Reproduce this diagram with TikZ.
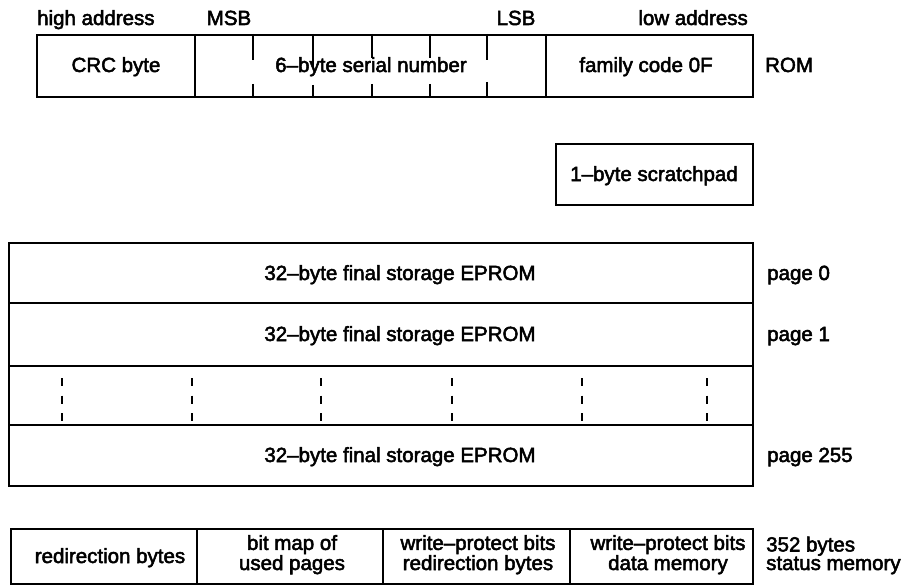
\documentclass[tikz,border=0pt]{standalone}
\usepackage{fontspec}
\setmainfont{Liberation Sans}
\newfontfamily\medfont{Liberation Sans}[FakeBold=2.5]
\begin{document}
\begin{tikzpicture}[x=1pt,y=-1pt,
  box/.style={draw=black,line width=1.8pt},
  seg/.style={draw=black,line width=1.8pt},
  lbl/.style={inner sep=0pt,font=\medfont\fontsize{20.5}{18.5}\selectfont},
  two/.style={lbl,align=center},
  dots/.style={draw=black,line width=2pt,dash pattern=on 8pt off 9.5pt}]
\useasboundingbox (0,0) rectangle (906,586);
% ---------- ROM ----------
\node[box,inner sep=0pt,minimum width=716pt,minimum height=62pt,anchor=north west] (rom) at (36,34) {};
\coordinate (r1t) at (195,34); \coordinate (r1b) at (195,96);
\coordinate (r2t) at (546,34); \coordinate (r2b) at (546,96);
\draw[seg] (r1t) -- (r1b);
\draw[seg] (r2t) -- (r2b);
\foreach \x/\a/\b in {253/60/84, 313/68/85, 372/58/84, 430/58/84, 487/60/82}{
  \draw[seg] (\x,34) -- (\x,\a);
  \draw[seg] (\x,\b) -- (\x,96);
}
\node[lbl,anchor=base] (crc) at (116,72) {CRC byte};
\node[lbl,anchor=base] (serial) at (371,72) {6–byte serial number};
\node[lbl,anchor=base] (fam) at (646,72) {family code 0F};
\node[lbl,anchor=base west] (romlbl) at (765,72) {ROM};
\node[lbl,anchor=base west] (high) at (37,25) {high address};
\node[lbl,anchor=base] (msb) at (229,25) {MSB};
\node[lbl,anchor=base] (lsb) at (516,25) {LSB};
\node[lbl,anchor=base east] (low) at (748,25) {low address};
% ---------- scratchpad ----------
\node[box,inner sep=0pt,minimum width=197pt,minimum height=61pt,anchor=north west] (sp) at (555,143) {};
\node[lbl,anchor=base] (sptext) at (654,181) {1–byte scratchpad};
% ---------- EPROM ----------
\node[box,inner sep=0pt,minimum width=744pt,minimum height=60pt,anchor=north west] (p0) at (8,242) {};
\node[box,inner sep=0pt,minimum width=744pt,minimum height=63pt,anchor=north west] (p1) at (8,302) {};
\node[box,inner sep=0pt,minimum width=744pt,minimum height=59pt,anchor=north west] (pd) at (8,365) {};
\node[box,inner sep=0pt,minimum width=744pt,minimum height=61pt,anchor=north west] (p255) at (8,424) {};
\node[lbl,anchor=base] (t0) at (400,280) {32–byte final storage EPROM};
\node[lbl,anchor=base] (t1) at (400,341) {32–byte final storage EPROM};
\node[lbl,anchor=base] (t255) at (400,462) {32–byte final storage EPROM};
\node[lbl,anchor=base west] (pg0) at (767,280) {page 0};
\node[lbl,anchor=base west] (pg1) at (767,341) {page 1};
\node[lbl,anchor=base west] (pg255) at (767,462) {page 255};
\foreach \x in {62,192,321,452,582,707}{
  \draw[dots] (\x,378) -- (\x,422);
}
% ---------- status memory ----------
\node[box,inner sep=0pt,minimum width=742pt,minimum height=55pt,anchor=north west] (st) at (10,528) {};
\coordinate (s1t) at (197,528); \coordinate (s1b) at (197,583);
\coordinate (s2t) at (383,528); \coordinate (s2b) at (383,583);
\coordinate (s3t) at (570,528); \coordinate (s3b) at (570,583);
\draw[seg] (s1t) -- (s1b);
\draw[seg] (s2t) -- (s2b);
\draw[seg] (s3t) -- (s3b);
\node[lbl,anchor=base] (redir) at (110,563) {redirection bytes};
\node[two,anchor=base] (bitmap) at (292,570) {bit map of\\used pages};
\node[two,anchor=base] (wpr) at (478,570) {write–protect bits\\redirection bytes};
\node[two,anchor=base] (wpd) at (668,570) {write–protect bits\\data memory};
\node[lbl,anchor=base west,align=left] (status) at (766,570) {352 bytes\\status memory};
\end{tikzpicture}
\end{document}
